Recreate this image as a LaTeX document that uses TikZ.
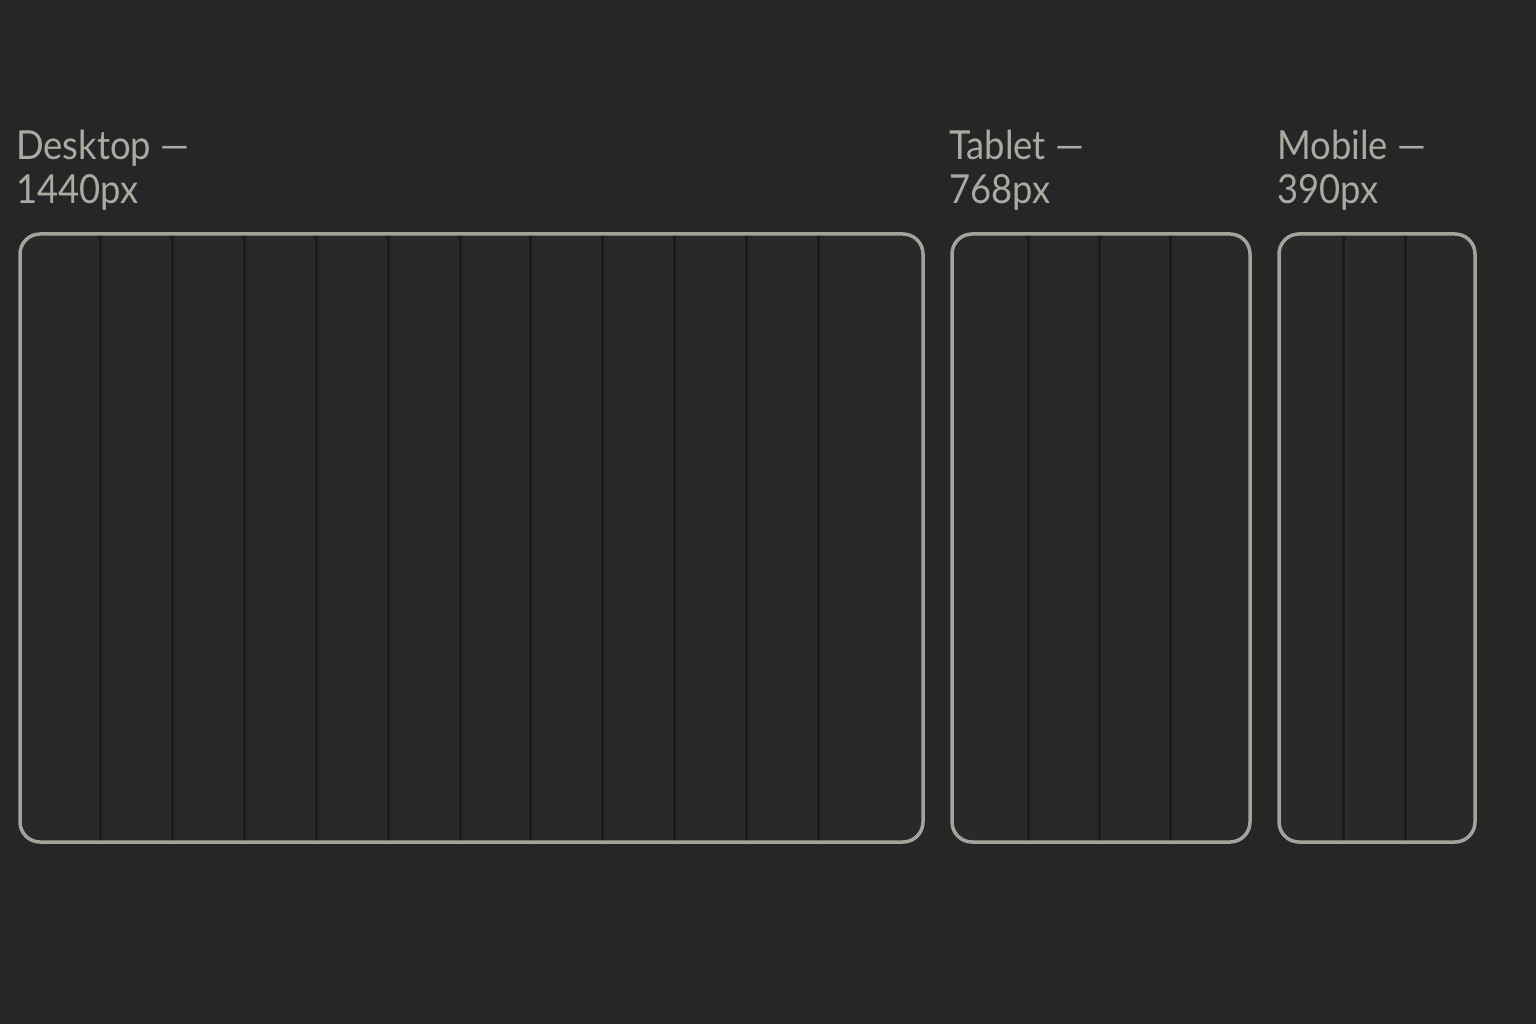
\documentclass[tikz,border=0pt]{standalone}
\usepackage{fontspec}
\setmainfont{Lato}[FakeStretch=0.91]
\definecolor{bg}{HTML}{262626}
\definecolor{panel}{HTML}{292929}
\definecolor{frame}{HTML}{A3A39B}
\definecolor{colline}{HTML}{1C1C1C}
\definecolor{labeltext}{HTML}{AAAAA2}
\begin{document}
\begin{tikzpicture}[x=1pt,y=-1pt,
  lbl/.style={anchor=base west,inner sep=0pt,text=labeltext,font=\fontsize{40}{44}\selectfont},
  framebox/.style={draw=frame,line width=3.5pt,rounded corners=20pt},
  colrule/.style={draw=colline,line width=3pt}]
\fill[bg] (0,0) rectangle (1536,1024);
\useasboundingbox (0,0) rectangle (1536,1024);
% labels
\node[lbl] (d1) at (16,160) {Desktop —};
\node[lbl] (d2) at (16,204) {1440px};
\node[lbl] (t1) at (949,160) {Tablet —};
\node[lbl] (t2) at (949,204) {768px};
\node[lbl] (m1) at (1277,160) {Mobile —};
\node[lbl] (m2) at (1277,204) {390px};
% desktop
\fill[panel,rounded corners=20pt] (20,234) rectangle (923,842);
\foreach \x in {100,172,244,316,388,460,530,602,674,746,818}
  \draw[colrule] (\x,235) -- (\x,841);
\draw[framebox] (20,234) rectangle (923,842);
% tablet
\fill[panel,rounded corners=20pt] (952,234) rectangle (1250,842);
\foreach \x in {1028,1099,1170}
  \draw[colrule] (\x,235) -- (\x,841);
\draw[framebox] (952,234) rectangle (1250,842);
% mobile
\fill[panel,rounded corners=20pt] (1279,234) rectangle (1475,842);
\foreach \x in {1343,1405}
  \draw[colrule] (\x,235) -- (\x,841);
\draw[framebox] (1279,234) rectangle (1475,842);
\end{tikzpicture}
\end{document}
